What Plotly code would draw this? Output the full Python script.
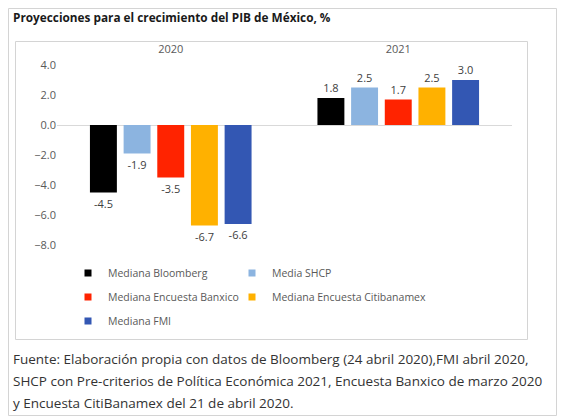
import plotly.graph_objects as go

years = ['2020', '2021']
series = ['Mediana Bloomberg', 'Media SHCP', 'Mediana Encuesta Banxico',
          'Mediana Encuesta Citibanamex', 'Mediana FMI']
bloomberg = [-4.5, 1.8]
shcp = [-1.9, 2.5]
banxico = [-3.5, 1.7]
citibanamex = [-6.7, 2.5]
fmi = [-6.6, 3.0]
valores = [bloomberg, shcp, banxico, citibanamex, fmi]
colores = ['#000000', '#8CB4E0', '#FF2300', '#FFB100', '#3357B3']

titulo = 'Proyecciones para el crecimiento del PIB de México, %'
fuente = [
    'Fuente: Elaboración propia con datos de Bloomberg (24 abril 2020),FMI abril 2020,',
    'SHCP con Pre-criterios de Política Económica 2021, Encuesta Banxico de marzo 2020',
    'y Encuesta CitiBanamex del 21 de abril 2020.',
]

W, H = 561, 416
L, R, T, B = 57, 512, 65, 245


def px(x):
    return (x - L) / (R - L)


def py(y):
    return (B - y) / (B - T)


FONT = 'Open Sans'
fig = go.Figure()

for nombre, vals, color in zip(series, valores, colores):
    fig.add_trace(go.Bar(
        x=years, y=vals, name=nombre, marker_color=color,
        marker_line_width=0, showlegend=False,
        texttemplate='%{y:.1f}', textposition='outside',
        textfont=dict(size=11, color='#404040', family=FONT),
        cliponaxis=False,
    ))

# one small legend per entry, placed like the original two-column layout
pos_leyenda = [(68, 273), (232, 273), (68, 297), (232, 297), (68, 321)]
layout_legends = {}
for i, (lx, ly) in enumerate(pos_leyenda):
    leg = 'legend' if i == 0 else 'legend%d' % (i + 1)
    fig.add_trace(go.Scatter(
        x=[None], y=[None], mode='markers', name=series[i], legend=leg,
        marker=dict(symbol='square', size=7, color=colores[i]),
    ))
    layout_legends[leg] = dict(
        orientation='h', xanchor='left', yanchor='middle',
        x=px(lx), y=py(ly), bgcolor='rgba(0,0,0,0)',
        font=dict(size=10.5, color='#595959', family=FONT),
    )

shapes = [
    dict(type='rect', xref='paper', yref='paper', x0=px(8.5), x1=px(556.5),
         y0=py(415.5), y1=py(8.5), line=dict(color='#D4D4D4', width=1)),
    dict(type='rect', xref='paper', yref='paper', x0=px(15.5), x1=px(527.5),
         y0=py(339.5), y1=py(41.5), line=dict(color='#D4D4D4', width=1)),
]

annotations = [dict(text='<b>%s</b>' % titulo, xref='paper', yref='paper',
                    x=px(11), y=py(17), xanchor='left', yanchor='middle',
                    showarrow=False, font=dict(size=11.8, color='#1a1a1a', family=FONT))]
for k, linea in enumerate(fuente):
    annotations.append(dict(text=linea, xref='paper', yref='paper',
                            x=px(11), y=py(359 + 22 * k), xanchor='left', yanchor='middle',
                            showarrow=False, font=dict(size=13.5, color='#333333', family=FONT)))

fig.update_layout(
    width=W, height=H,
    margin=dict(l=L, r=W - R, t=T, b=H - B),
    paper_bgcolor='white', plot_bgcolor='white',
    barmode='group', bargap=0.26, bargroupgap=0.2,
    font=dict(family=FONT, color='#595959'),
    xaxis=dict(side='top', showline=False, showgrid=False, ticks='',
               ticklabelstandoff=9, tickfont=dict(size=11, color='#595959')),
    yaxis=dict(range=[-8, 4], dtick=2, tickformat='.1f', showgrid=False,
               showline=False, zeroline=True, zerolinecolor='#D9D9D9', zerolinewidth=1,
               ticks='', tickfont=dict(size=11, color='#595959')),
    shapes=shapes,
    annotations=annotations,
    **layout_legends,
)

fig.write_html('out.html', config={'displayModeBar': False},
               post_script="document.body.style.margin='0px';")
